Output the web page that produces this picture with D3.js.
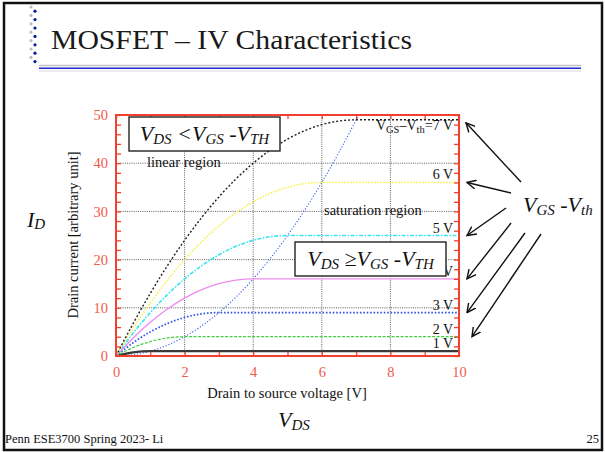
<!DOCTYPE html>
<html>
<head>
<meta charset="utf-8">
<script src="https://cdn.jsdelivr.net/npm/d3@7"></script>
<style>
  html, body { margin: 0; padding: 0; background: #fff; }
  svg { display: block; }
  text { font-family: "Liberation Serif", "Times New Roman", serif; }
</style>
</head>
<body>
<svg id="slide" width="605" height="452"></svg>
<script>
// Drain-to-source voltage samples [V]
const vds = [0, 0.5, 1, 1.5, 2, 2.5, 3, 3.5, 4, 4.5, 5, 5.5, 6, 6.5, 7, 7.5, 8, 8.5, 9, 9.5, 10];

// Drain current [arbitrary unit] for each gate overdrive VGS - Vth
const id1V = [0, 0.75, 1, 1, 1, 1, 1, 1, 1, 1, 1, 1, 1, 1, 1, 1, 1, 1, 1, 1, 1];
const id2V = [0, 1.75, 3, 3.75, 4, 4, 4, 4, 4, 4, 4, 4, 4, 4, 4, 4, 4, 4, 4, 4, 4];
const id3V = [0, 2.75, 5, 6.75, 8, 8.75, 9, 9, 9, 9, 9, 9, 9, 9, 9, 9, 9, 9, 9, 9, 9];
const id4V = [0, 3.75, 7, 9.75, 12, 13.75, 15, 15.75, 16, 16, 16, 16, 16, 16, 16, 16, 16, 16, 16, 16, 16];
const id5V = [0, 4.75, 9, 12.75, 16, 18.75, 21, 22.75, 24, 24.75, 25, 25, 25, 25, 25, 25, 25, 25, 25, 25, 25];
const id6V = [0, 5.75, 11, 15.75, 20, 23.75, 27, 29.75, 32, 33.75, 35, 35.75, 36, 36, 36, 36, 36, 36, 36, 36, 36];
const id7V = [0, 6.75, 13, 18.75, 24, 28.75, 33, 36.75, 40, 42.75, 45, 46.75, 48, 48.75, 49, 49, 49, 49, 49, 49, 49];

// Edge of saturation, VDS = VGS - Vth
const edgeVds = [0, 0.5, 1, 1.5, 2, 2.5, 3, 3.5, 4, 4.5, 5, 5.5, 6, 6.5, 7, 7.5];
const edgeId  = [0, 0.25, 1, 2.25, 4, 6.25, 9, 12.25, 16, 20.25, 25, 30.25, 36, 42.25, 49, 56.25];

// Overdrive labels and the levels they sit at
const overdrives = [1, 2, 3, 4, 5, 6, 7];
const xTicks = [0, 2, 4, 6, 8, 10];
const yTicks = [0, 10, 20, 30, 40, 50];

const curves = [
  { v: 1, ids: id1V, color: "#3a3a3a", width: 2.2, dash: null },
  { v: 2, ids: id2V, color: "#3fcf3f", width: 1.2, dash: "3,1.5" },
  { v: 3, ids: id3V, color: "#2f55e8", width: 1.7, dash: "1.6,1.8" },
  { v: 4, ids: id4V, color: "#ee8cee", width: 1.4, dash: null },
  { v: 5, ids: id5V, color: "#36e6f0", width: 1.6, dash: "4,1.5,1.5,1.5" },
  { v: 6, ids: id6V, color: "#f4f040", width: 1.5, dash: "1.5,1.5" },
  { v: 7, ids: id7V, color: "#202020", width: 1.4, dash: "2,2" }
];

const serif = "'Liberation Serif', 'Times New Roman', serif";
const svg = d3.select("#slide");
const red = "#f2402e";
const redText = "#f25a4a";

// slide frame
svg.append("rect").attr("x", 4).attr("y", 3).attr("width", 598).attr("height", 447)
  .attr("fill", "none").attr("stroke", "#111").attr("stroke-width", 2.5);

// dotted ornament next to the title
d3.range(14).forEach(i => {
  svg.append("circle")
    .attr("cx", i % 2 === 0 ? 31 : 35)
    .attr("cy", 7 + i * 4.2)
    .attr("r", 1.6)
    .attr("fill", i % 2 === 0 ? "#bdbdbd" : "#0c1a9c");
});

// title
svg.append("text").attr("x", 51).attr("y", 49)
  .attr("font-family", serif)
  .attr("font-size", 28).attr("fill", "#1a1a1a")
  .attr("textLength", 361).attr("lengthAdjust", "spacingAndGlyphs")
  .text("MOSFET – IV Characteristics");

// rule under the title
svg.append("line").attr("x1", 39).attr("x2", 581).attr("y1", 65.5).attr("y2", 65.5)
  .attr("stroke", "#c4c4c4").attr("stroke-width", 1.3);
svg.append("line").attr("x1", 39).attr("x2", 581).attr("y1", 68.3).attr("y2", 68.3)
  .attr("stroke", "#1c2ad0").attr("stroke-width", 1.6);
svg.append("line").attr("x1", 39).attr("x2", 581).attr("y1", 71).attr("y2", 71)
  .attr("stroke", "#d8d8d8").attr("stroke-width", 1.2);

// plot scales
const x = d3.scaleLinear().domain([0, 10]).range([116, 459]);
const y = d3.scaleLinear().domain([0, 50]).range([356, 115]);
const [x0, x1] = x.range();
const [y0, y1] = y.range();

const plot = svg.append("g");

// grid
plot.append("g").selectAll("line").data(xTicks.slice(1, -1)).join("line")
  .attr("x1", d => x(d)).attr("x2", d => x(d)).attr("y1", y0).attr("y2", y1)
  .attr("stroke", "#333").attr("stroke-width", 0.8).attr("stroke-dasharray", "1,1.2");
plot.append("g").selectAll("line").data(yTicks.slice(1, -1)).join("line")
  .attr("x1", x0).attr("x2", x1).attr("y1", d => y(d)).attr("y2", d => y(d))
  .attr("stroke", "#333").attr("stroke-width", 0.8).attr("stroke-dasharray", "1,1.2");

// curves
svg.append("clipPath").attr("id", "plotClip").append("rect")
  .attr("x", x0).attr("y", y1).attr("width", x1 - x0).attr("height", y0 - y1);

const line = d3.line().x(d => x(d[0])).y(d => y(d[1])).curve(d3.curveMonotoneX);
const curveG = plot.append("g").attr("clip-path", "url(#plotClip)");

curveG.append("path")
  .datum(edgeVds.map((v, i) => [v, edgeId[i]]))
  .attr("d", line).attr("fill", "none")
  .attr("stroke", "#3d5ff0").attr("stroke-width", 1.1).attr("stroke-dasharray", "1.2,1.8");

curveG.selectAll("path.iv").data(curves).join("path")
  .attr("class", "iv")
  .attr("d", c => line(vds.map((v, i) => [v, c.ids[i]])))
  .attr("fill", "none")
  .attr("stroke", c => c.color)
  .attr("stroke-width", c => c.width)
  .attr("stroke-dasharray", c => c.dash);

// axes with inward ticks on all four sides
function styleAxis(g) {
  g.select(".domain").remove();
  g.selectAll(".tick line").attr("stroke", red).attr("stroke-width", 1.3);
  g.selectAll(".tick text").attr("fill", redText)
    .attr("font-family", serif).attr("font-size", 14.5)
    .style("font-family", serif).style("font-size", "14.5px");
}
const xMinor = d3.range(0, 11, 1);
const yMinor = d3.range(0, 51, 2);

svg.append("g").attr("transform", `translate(0,${y0})`)
  .call(d3.axisBottom(x).tickValues(xMinor).tickSize(-4).tickFormat(""))
  .call(styleAxis);
svg.append("g").attr("transform", `translate(0,${y0})`)
  .call(d3.axisBottom(x).tickValues(xTicks).tickSize(0).tickPadding(11).tickFormat(d3.format("d")))
  .call(styleAxis);
svg.append("g").attr("transform", `translate(0,${y1})`)
  .call(d3.axisTop(x).tickValues(xMinor).tickSize(-4).tickFormat(""))
  .call(styleAxis);
svg.append("g").attr("transform", `translate(${x0},0)`)
  .call(d3.axisLeft(y).tickValues(yMinor).tickSize(-5).tickFormat(""))
  .call(styleAxis);
svg.append("g").attr("transform", `translate(${x0},0)`)
  .call(d3.axisLeft(y).tickValues(yTicks).tickSize(0).tickPadding(8).tickFormat(d3.format("d")))
  .call(styleAxis);
svg.append("g").attr("transform", `translate(${x1},0)`)
  .call(d3.axisRight(y).tickValues(yMinor).tickSize(-5).tickFormat(""))
  .call(styleAxis);

// plot frame
svg.append("rect").attr("x", x0).attr("y", y1).attr("width", x1 - x0).attr("height", y0 - y1)
  .attr("fill", "none").attr("stroke", red).attr("stroke-width", 2);

// overdrive labels at the saturation levels
const labelG = svg.append("g").attr("font-size", 14).attr("fill", "#111").attr("text-anchor", "end");
overdrives.forEach(v => {
  const sat = v * v;
  const t = labelG.append("text").attr("x", 453).attr("y", v === 7 ? y(sat) + 10 : y(sat) - 3);
  if (v === 7) {
    t.append("tspan").text("V");
    t.append("tspan").attr("font-size", 10.5).attr("dy", 3).text("GS");
    t.append("tspan").attr("dy", -3).text("–V");
    t.append("tspan").attr("font-size", 10.5).attr("dy", 3).text("th");
    t.append("tspan").attr("dy", -3).text("=7 V");
  } else {
    t.text(`${v} V`);
  }
});

// region notes
svg.append("text").attr("x", 147).attr("y", 167).attr("font-size", 14.5).attr("fill", "#111")
  .text("linear region");
svg.append("text").attr("x", 324).attr("y", 215).attr("font-size", 14.5).attr("fill", "#111")
  .text("saturation region");

// boxed conditions
function conditionBox(bx, by, bw, bh, rel) {
  svg.append("rect").attr("x", bx).attr("y", by).attr("width", bw).attr("height", bh)
    .attr("fill", "#fff").attr("stroke", "#222").attr("stroke-width", 1.4);
  const t = svg.append("text").attr("x", bx + bw / 2).attr("y", by + 24)
    .attr("text-anchor", "middle").attr("font-style", "italic").attr("font-size", 22).attr("fill", "#111");
  t.append("tspan").text("V");
  t.append("tspan").attr("font-size", 15).attr("dy", 3).text("DS");
  t.append("tspan").attr("dy", -3).text(" " + rel + "V");
  t.append("tspan").attr("font-size", 15).attr("dy", 3).text("GS");
  t.append("tspan").attr("dy", -3).text(" -V");
  t.append("tspan").attr("font-size", 15).attr("dy", 3).text("TH");
}
conditionBox(129, 117, 151, 34, "<");
conditionBox(295, 242, 151, 34, "≥");

// axis titles
svg.append("text").attr("transform", "translate(78,235) rotate(-90)")
  .attr("text-anchor", "middle").attr("font-size", 14.5).attr("fill", "#111")
  .text("Drain current [arbitrary unit]");
svg.append("text").attr("x", 287).attr("y", 398).attr("text-anchor", "middle")
  .attr("font-size", 14.5).attr("fill", "#111").text("Drain to source voltage [V]");

const idLabel = svg.append("text").attr("x", 27).attr("y", 227)
  .attr("font-style", "italic").attr("font-size", 22).attr("fill", "#111");
idLabel.append("tspan").text("I");
idLabel.append("tspan").attr("font-size", 15).attr("dy", 2).text("D");

const vdsLabel = svg.append("text").attr("x", 278).attr("y", 427)
  .attr("font-style", "italic").attr("font-size", 22).attr("fill", "#111");
vdsLabel.append("tspan").text("V");
vdsLabel.append("tspan").attr("font-size", 15).attr("dy", 3).text("DS");

const ovLabel = svg.append("text").attr("x", 523).attr("y", 212)
  .attr("font-style", "italic").attr("font-size", 22).attr("fill", "#111");
ovLabel.append("tspan").text("V");
ovLabel.append("tspan").attr("font-size", 15).attr("dy", 3).text("GS");
ovLabel.append("tspan").attr("dy", -3).text(" -V");
ovLabel.append("tspan").attr("font-size", 15).attr("dy", 3).text("th");

// arrows from the overdrive note to each saturation level
svg.append("defs").append("marker").attr("id", "head")
  .attr("viewBox", "0 -5 10 10").attr("refX", 9).attr("refY", 0)
  .attr("markerWidth", 10).attr("markerHeight", 10).attr("markerUnits", "userSpaceOnUse")
  .attr("orient", "auto")
  .append("path").attr("d", "M0,-4.5L9,0L0,4.5").attr("fill", "none")
  .attr("stroke", "#111").attr("stroke-width", 1.4);

const arrowLevels = [7, 6, 5, 4, 3, 2];
const arrowStarts = [[521, 182], [511, 193], [506, 208], [511, 223], [525, 233], [541, 234]];
const arrowTipX = [466, 467, 467, 467, 467, 472];
arrowLevels.forEach((v, i) => {
  svg.append("line")
    .attr("x1", arrowStarts[i][0]).attr("y1", arrowStarts[i][1])
    .attr("x2", arrowTipX[i]).attr("y2", y(v * v) + (v === 7 ? 3 : 0))
    .attr("stroke", "#111").attr("stroke-width", 1.4).attr("marker-end", "url(#head)");
});

// footer
svg.append("text").attr("x", 5).attr("y", 443).attr("font-size", 12.5).attr("fill", "#111")
  .text("Penn ESE3700 Spring 2023- Li");
svg.append("text").attr("x", 599).attr("y", 443).attr("text-anchor", "end")
  .attr("font-size", 12.5).attr("fill", "#111").text("25");
</script>
</body>
</html>
